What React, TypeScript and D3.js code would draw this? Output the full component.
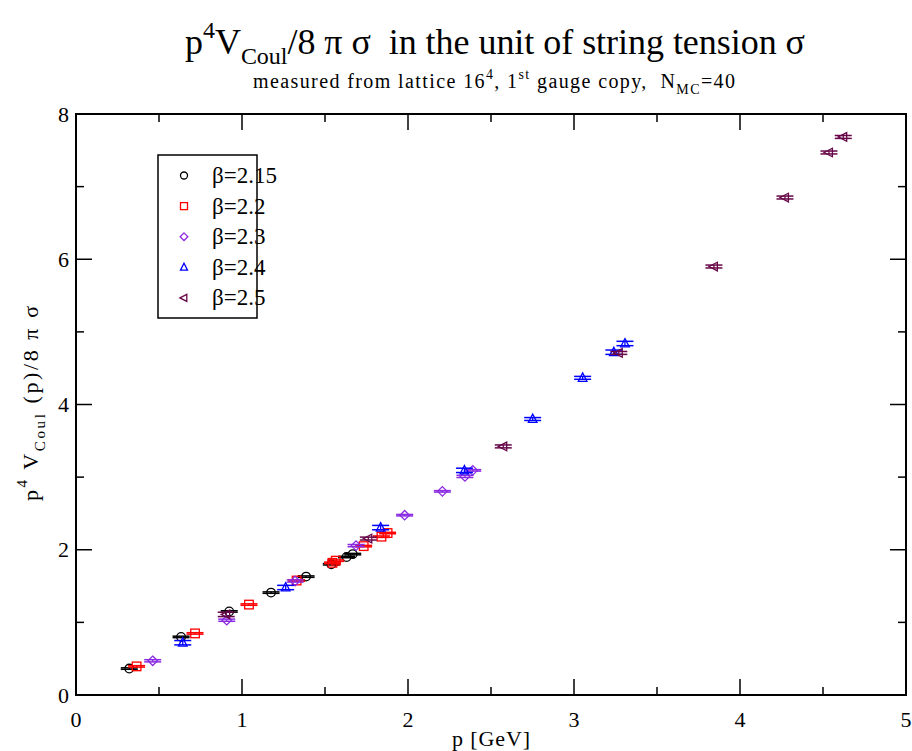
import React from "react";
import * as d3 from "d3";

// ---- data ----
const xTicks = [0, 1, 2, 3, 4, 5];
const yTicks = [0, 2, 4, 6, 8];
const seriesNames = ["β=2.15", "β=2.2", "β=2.3", "β=2.4", "β=2.5"];

const p215 = [0.321, 0.633, 0.923, 1.175, 1.386, 1.538, 1.63, 1.667];
const v215 = [0.364, 0.8, 1.15, 1.41, 1.63, 1.8, 1.9, 1.94];
const e215 = [0.01, 0.01, 0.01, 0.01, 0.01, 0.01, 0.01, 0.01];

const p22 = [0.365, 0.717, 1.042, 1.329, 1.545, 1.565, 1.733, 1.84, 1.877];
const v22 = [0.394, 0.848, 1.245, 1.576, 1.82, 1.85, 2.05, 2.18, 2.23];
const e22 = [0.01, 0.01, 0.01, 0.01, 0.01, 0.01, 0.01, 0.01, 0.01];

const p23 = [0.462, 0.908, 1.32, 1.687, 1.98, 2.207, 2.343, 2.39];
const v23 = [0.471, 1.03, 1.57, 2.057, 2.476, 2.804, 3.01, 3.093];
const e23 = [0.015, 0.015, 0.015, 0.015, 0.01, 0.01, 0.015, 0.01];

const p24 = [0.643, 1.263, 1.835, 2.34, 2.751, 3.052, 3.24, 3.307];
const v24 = [0.72, 1.48, 2.305, 3.093, 3.8, 4.367, 4.72, 4.84];
const e24 = [0.03, 0.03, 0.03, 0.03, 0.02, 0.02, 0.03, 0.03];

const p25 = [0.905, 1.761, 2.574, 3.27, 3.843, 4.271, 4.536, 4.622];
const v25 = [1.11, 2.154, 3.423, 4.71, 5.9, 6.85, 7.47, 7.684];
const e25 = [0.03, 0.02, 0.02, 0.02, 0.02, 0.02, 0.02, 0.02];

const colors = ["#000000", "#ff0000", "#8a2be2", "#0000ff", "#670748"];
const shapes = ["circle", "square", "diamond", "triangle", "left"];

const series = [
  { p: p215, v: v215, e: e215 },
  { p: p22, v: v22, e: e22 },
  { p: p23, v: v23, e: e23 },
  { p: p24, v: v24, e: e24 },
  { p: p25, v: v25, e: e25 },
];

// ---- layout ----
const W = 912;
const H = 751;
const L = 76, R = 906, T = 114, B = 695;

const x = d3.scaleLinear().domain([0, 5]).range([L, R]);
const y = d3.scaleLinear().domain([0, 8]).range([B, T]);

function Marker({ shape, cx, cy, r, color }: any) {
  const sw = 1.3;
  if (shape === "circle")
    return <circle cx={cx} cy={cy} r={r} fill="none" stroke={color} strokeWidth={sw} />;
  if (shape === "square")
    return <rect x={cx - r} y={cy - r} width={2 * r} height={2 * r} fill="none" stroke={color} strokeWidth={sw} />;
  if (shape === "diamond")
    return (
      <polygon
        points={`${cx},${cy - r * 1.1} ${cx + r * 1.1},${cy} ${cx},${cy + r * 1.1} ${cx - r * 1.1},${cy}`}
        fill="none" stroke={color} strokeWidth={sw} />
    );
  if (shape === "triangle")
    return (
      <polygon
        points={`${cx},${cy - r * 1.15} ${cx + r},${cy + r * 0.8} ${cx - r},${cy + r * 0.8}`}
        fill="none" stroke={color} strokeWidth={sw} />
    );
  return (
    <polygon
      points={`${cx - r * 1.15},${cy} ${cx + r * 0.8},${cy - r} ${cx + r * 0.8},${cy + r}`}
      fill="none" stroke={color} strokeWidth={sw} />
  );
}

export default function App() {
  const xMinor = d3.range(0.5, 5, 1);
  const yMinor = d3.range(1, 8, 2);
  const font = "'Liberation Serif', 'Times New Roman', serif";
  const cap = 8.5;

  return (
    <svg width={W} height={H} style={{ position: "absolute", left: 0, top: 0, background: "#fff" }} fontFamily={font}>
      <rect x={0} y={0} width={W} height={H} fill="#fff" />

      {/* title */}
      <text x={185} y={54} fontSize={36} textLength={620} lengthAdjust="spacing" style={{ whiteSpace: "pre" }}>
        p<tspan dy={-16} fontSize={24}>4</tspan>
        <tspan dy={16}>V</tspan>
        <tspan dy={10} fontSize={24}>Coul</tspan>
        <tspan dy={-10}>/8 π σ  in the unit of string tension σ</tspan>
      </text>
      <text x={253} y={88} fontSize={20} textLength={482} lengthAdjust="spacing" style={{ whiteSpace: "pre" }}>
        measured from lattice 16<tspan dy={-9} fontSize={14}>4</tspan>
        <tspan dy={9}>, 1</tspan>
        <tspan dy={-9} fontSize={14}>st</tspan>
        <tspan dy={9}> gauge copy,  N</tspan>
        <tspan dy={6} fontSize={14}>MC</tspan>
        <tspan dy={-6}>=40</tspan>
      </text>

      {/* ticks */}
      {xTicks.map((t) => (
        <g key={"xt" + t}>
          <line x1={x(t)} x2={x(t)} y1={B} y2={B - 16} stroke="#000" strokeWidth={1.5} />
          <line x1={x(t)} x2={x(t)} y1={T} y2={T + 16} stroke="#000" strokeWidth={1.5} />
          <text x={x(t)} y={727} fontSize={22} textAnchor="middle">{t}</text>
        </g>
      ))}
      {xMinor.map((t) => (
        <g key={"xm" + t}>
          <line x1={x(t)} x2={x(t)} y1={B} y2={B - 8} stroke="#000" strokeWidth={1.5} />
          <line x1={x(t)} x2={x(t)} y1={T} y2={T + 8} stroke="#000" strokeWidth={1.5} />
        </g>
      ))}
      {yTicks.map((t) => (
        <g key={"yt" + t}>
          <line x1={L} x2={L + 16} y1={y(t)} y2={y(t)} stroke="#000" strokeWidth={1.5} />
          <line x1={R} x2={R - 16} y1={y(t)} y2={y(t)} stroke="#000" strokeWidth={1.5} />
          <text x={69} y={y(t) + 7.5} fontSize={22} textAnchor="end">{t}</text>
        </g>
      ))}
      {yMinor.map((t) => (
        <g key={"ym" + t}>
          <line x1={L} x2={L + 8} y1={y(t)} y2={y(t)} stroke="#000" strokeWidth={1.5} />
          <line x1={R} x2={R - 8} y1={y(t)} y2={y(t)} stroke="#000" strokeWidth={1.5} />
        </g>
      ))}

      {/* data */}
      {series.map((s, si) => (
        <g key={"s" + si}>
          {s.p.map((pv, i) => {
            const cx = x(pv);
            const y1 = y(s.v[i] + s.e[i]);
            const y2 = y(s.v[i] - s.e[i]);
            return (
              <g key={i}>
                <line x1={cx} x2={cx} y1={y1} y2={y2} stroke={colors[si]} strokeWidth={1.3} />
                <line x1={cx - cap} x2={cx + cap} y1={y1} y2={y1} stroke={colors[si]} strokeWidth={1.5} />
                <line x1={cx - cap} x2={cx + cap} y1={y2} y2={y2} stroke={colors[si]} strokeWidth={1.5} />
                <Marker shape={shapes[si]} cx={cx} cy={y(s.v[i])} r={4.3} color={colors[si]} />
              </g>
            );
          })}
        </g>
      ))}

      {/* frame */}
      <rect x={L} y={T} width={R - L} height={B - T} fill="none" stroke="#000" strokeWidth={2} />

      {/* axis labels */}
      <text x={452} y={746} fontSize={22} textLength={78} lengthAdjust="spacing">p [GeV]</text>
      <text transform="translate(38,501) rotate(-90)" fontSize={22} textLength={195} lengthAdjust="spacing" style={{ whiteSpace: "pre" }}>
        p<tspan dy={-11} fontSize={15}>4</tspan>
        <tspan dy={11}> V</tspan>
        <tspan dy={7} fontSize={15}>Coul</tspan>
        <tspan dy={-7}> (p)/8 π σ</tspan>
      </text>

      {/* legend */}
      <rect x={158} y={155} width={99} height={163} fill="#fff" stroke="#000" strokeWidth={1.5} />
      {seriesNames.map((n, i) => {
        const cy = 175.5 + i * 30.6;
        return (
          <g key={"lg" + i}>
            <Marker shape={shapes[i]} cx={184} cy={cy} r={3.5} color={colors[i]} />
            <text x={212} y={cy + 7.5} fontSize={23}>{n}</text>
          </g>
        );
      })}
    </svg>
  );
}
